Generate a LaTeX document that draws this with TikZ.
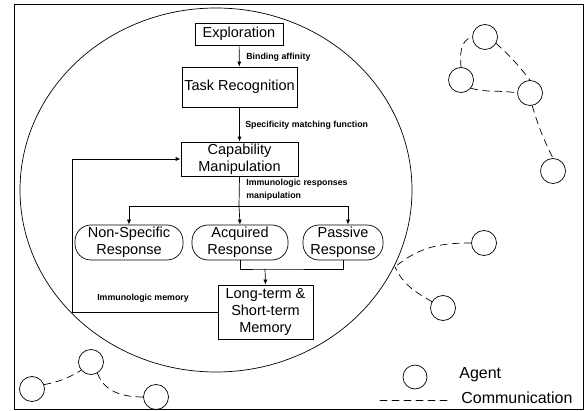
\documentclass[tikz,border=0pt]{standalone}
\usepackage{fontspec}
\setmainfont{Liberation Sans}
\usetikzlibrary{arrows.meta}

\begin{document}
\begin{tikzpicture}[x=1pt,y=-1pt,>={Latex[length=5pt,width=4pt]},line width=0.7pt,line cap=round,
  box/.style={draw,align=center,inner sep=1pt,font=\fontsize{14.5}{17}\selectfont},
  resp/.style={box,rounded corners=16pt},
  lbl/.style={font=\fontsize{8.8}{13}\selectfont\bfseries,inner sep=1pt},
  agent/.style={draw,circle,minimum size=25pt,inner sep=0pt},
  comm/.style={dash pattern=on 7pt off 5pt}]
\useasboundingbox (0,0) rectangle (585,411);
\draw[line width=1pt] (14,5) rectangle (583,409);
\draw (216,190) ellipse [x radius=196, y radius=182];
% flow inside the agent
\node[box,minimum width=88pt,minimum height=22pt] (expl) at (239,34) {Exploration};
\node[box,minimum width=115pt,minimum height=40pt] (task) at (239.5,87) {Task Recognition};
\node[box,minimum width=117pt,minimum height=34pt] (cap) at (239.5,159) {Capability\\Manipulation};
\node[resp,minimum width=108pt,minimum height=35pt] (nonspec) at (129,242.5) {Non-Specific\\Response};
\node[resp,minimum width=96pt,minimum height=35pt] (acq) at (240,242.5) {Acquired\\Response};
\node[resp,minimum width=80pt,minimum height=35pt] (pas) at (343,242.5) {Passive\\Response};
\node[box,minimum width=95pt,minimum height=54pt] (mem) at (265.5,312) {Long-term \&\\Short-term\\Memory};
\coordinate (split) at (239,206);
\coordinate (join) at (265,269);
\coordinate (back) at (72,312);
\draw[->] (expl) -- (task);
\draw[->] (task) -- (cap);
\draw (cap.south) -- (split);
\draw[->] (split) -| (nonspec.north);
\draw[->] (split) -- (acq.north);
\draw[->] (split) -| ([xshift=5pt]pas.north);
\draw (acq.south) |- (join) -| (pas.south);
\draw[->] (join) -- (mem.north);
\draw[->] (mem.west) -- (back) |- (cap.west);
\node[lbl,anchor=west] (bind) at (245,57) {Binding affinity};
\node[lbl,anchor=west] (spec) at (244,125) {Specificity matching function};
\node[lbl,anchor=west,align=left] (imresp) at (245,190) {Immunologic responses\\manipulation};
\node[lbl] (immem) at (143,298) {Immunologic memory};
% agents
\node[agent] (a1) at (485,37) {};
\node[agent] (a2) at (461,80) {};
\node[agent] (a3) at (530,93) {};
\node[agent] (a4) at (553,171) {};
\node[agent] (a5) at (484,243) {};
\node[agent] (a6) at (443,308) {};
\coordinate (hub) at (395,267);
\node[agent] (b1) at (32,389) {};
\node[agent] (b2) at (91,362) {};
\node[agent] (b3) at (156,397) {};
\draw[comm] (a2.north) to[out=95,in=195] (a1.west);
\draw[comm] (a1.-30) to[bend left=5] (a3.north);
\draw[comm] (a2.-40) to[out=-15,in=170] (a3.west);
\draw[comm] (a3.-80) to[bend right=5] (a4.north);
\draw[comm] (a5.west) to[out=180,in=40] (hub);
\draw[comm] (a6.150) to[out=150,in=-65] (hub);
\draw[comm] (b1.20) to[bend right=10] (b2.-140);
\draw[comm] (b2.-60) to[out=-70,in=180] (b3.west);
% legend
\node[agent,minimum size=24pt] (ag) at (415,377) {};
\node[anchor=west,font=\fontsize{16}{18}\selectfont,inner sep=0pt] (agtxt) at (459,375) {Agent};
\coordinate (cl1) at (380,400);
\coordinate (cl2) at (447,400);
\draw[comm] (cl1) -- (cl2);
\node[anchor=west,font=\fontsize{16}{18}\selectfont,inner sep=0pt] (cmtxt) at (461,398) {Communication};
\end{tikzpicture}
\end{document}
